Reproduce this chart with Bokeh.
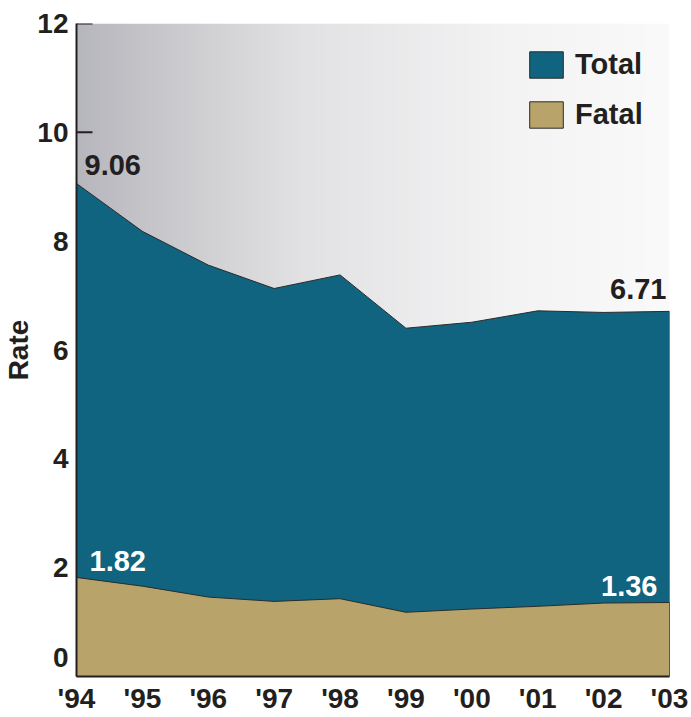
import numpy as np
from bokeh.plotting import figure
from bokeh.models import Range1d, FixedTicker, Legend, LegendItem
from bokeh.embed import file_html
from bokeh.resources import INLINE
from bokeh.core.properties import value

# ---- data ----
years = ["'94", "'95", "'96", "'97", "'98", "'99", "'00", "'01", "'02", "'03"]
total = [9.06, 8.18, 7.56, 7.13, 7.38, 6.40, 6.51, 6.72, 6.69, 6.71]
fatal = [1.82, 1.66, 1.46, 1.38, 1.43, 1.18, 1.24, 1.29, 1.35, 1.36]
y_ticks = [0, 2, 4, 6, 8, 10, 12]

FONT = "Liberation Sans"
INK = "#231f20"
TOTAL_C = "#11647f"
FATAL_C = "#b8a46a"

x = list(range(len(years)))
ymax = y_ticks[-1]

p = figure(width=690, height=716, output_backend="svg", toolbar_location=None,
           x_range=Range1d(x[0], x[-1]), y_range=Range1d(0, ymax),
           min_border_left=74, min_border_right=21, min_border_top=23,
           min_border_bottom=33)
p.grid.visible = False
p.outline_line_color = None
p.background_fill_color = "white"
p.border_fill_color = "white"

# background gradient (decoration)
W = 400
t = np.linspace(0, 1, W)
stops = [0, 0.21, 0.38, 0.72, 1]
rg = np.interp(t, stops, [182, 208, 226, 243, 250])
bl = np.interp(t, stops, [189, 211, 228, 244, 250])
img = np.empty((1, W), dtype=np.uint32)
view = img.view(dtype=np.uint8).reshape((1, W, 4))
view[0, :, 0] = rg
view[0, :, 1] = rg
view[0, :, 2] = bl
view[0, :, 3] = 255
p.image_rgba(image=[img], x=x[0], y=0, dw=x[-1] - x[0], dh=ymax)

# inward y ticks, drawn beneath the areas
p.ray(x=[x[0]] * len(y_ticks), y=y_ticks, length=16, length_units="screen",
      angle=0, line_color=INK, line_width=2)

# areas
r_total = p.patch(x + [x[-1], x[0]], total + [0, 0], fill_color=TOTAL_C,
                  line_color="#2b2b2b", line_width=1)
r_fatal = p.patch(x + [x[-1], x[0]], fatal + [0, 0], fill_color=FATAL_C,
                  line_color="#2b2b2b", line_width=1)

# value labels
common = dict(text_font=value(FONT), text_font_style="bold", text_font_size="29px",
              text_baseline="middle")
p.text(x=[x[0]], y=[total[0]], text=[f"{total[0]:.2f}"], x_offset=8, y_offset=-18,
       text_align="left", text_color=INK, **common)
p.text(x=[x[-1]], y=[total[-1]], text=[f"{total[-1]:.2f}"], x_offset=-3, y_offset=-22,
       text_align="right", text_color=INK, **common)
p.text(x=[x[0]], y=[fatal[0]], text=[f"{fatal[0]:.2f}"], x_offset=13, y_offset=-16,
       text_align="left", text_color="white", **common)
p.text(x=[x[-1]], y=[fatal[-1]], text=[f"{fatal[-1]:.2f}"], x_offset=-12, y_offset=-16,
       text_align="right", text_color="white", **common)

# axes
p.yaxis.ticker = FixedTicker(ticks=y_ticks)
p.yaxis.major_label_overrides = {0: "0\n "}
p.yaxis.major_tick_in = 0
p.yaxis.major_tick_out = 0
p.yaxis.minor_tick_line_color = None
p.yaxis.axis_line_width = 2
p.yaxis.axis_line_color = INK
p.yaxis.major_label_standoff = 8
p.yaxis.major_label_text_font = FONT
p.yaxis.major_label_text_font_style = "bold"
p.yaxis.major_label_text_font_size = "28px"
p.yaxis.major_label_text_color = INK
p.yaxis.axis_label = "Rate"
p.yaxis.axis_label_standoff = 0
p.yaxis.axis_label_text_font = FONT
p.yaxis.axis_label_text_font_style = "bold"
p.yaxis.axis_label_text_font_size = "28px"
p.yaxis.axis_label_text_color = INK

p.xaxis.ticker = FixedTicker(ticks=x)
p.xaxis.major_label_overrides = dict(zip(x, years))
p.xaxis.major_tick_in = 0
p.xaxis.major_tick_out = 0
p.xaxis.minor_tick_line_color = None
p.xaxis.axis_line_width = 2
p.xaxis.axis_line_color = INK
p.xaxis.major_label_standoff = 6
p.xaxis.major_label_text_font = FONT
p.xaxis.major_label_text_font_style = "bold"
p.xaxis.major_label_text_font_size = "28px"
p.xaxis.major_label_text_color = INK

legend = Legend(items=[LegendItem(label="Total", renderers=[r_total]),
                       LegendItem(label="Fatal", renderers=[r_fatal])],
                location=(449, 545), glyph_width=42, glyph_height=33, spacing=17,
                padding=0, margin=0, label_standoff=8,
                label_text_font=FONT, label_text_font_style="bold",
                label_text_font_size="29px", label_text_color=INK,
                background_fill_alpha=0, border_line_alpha=0)
p.add_layout(legend)

open("out.html", "w").write(file_html(p, INLINE))
